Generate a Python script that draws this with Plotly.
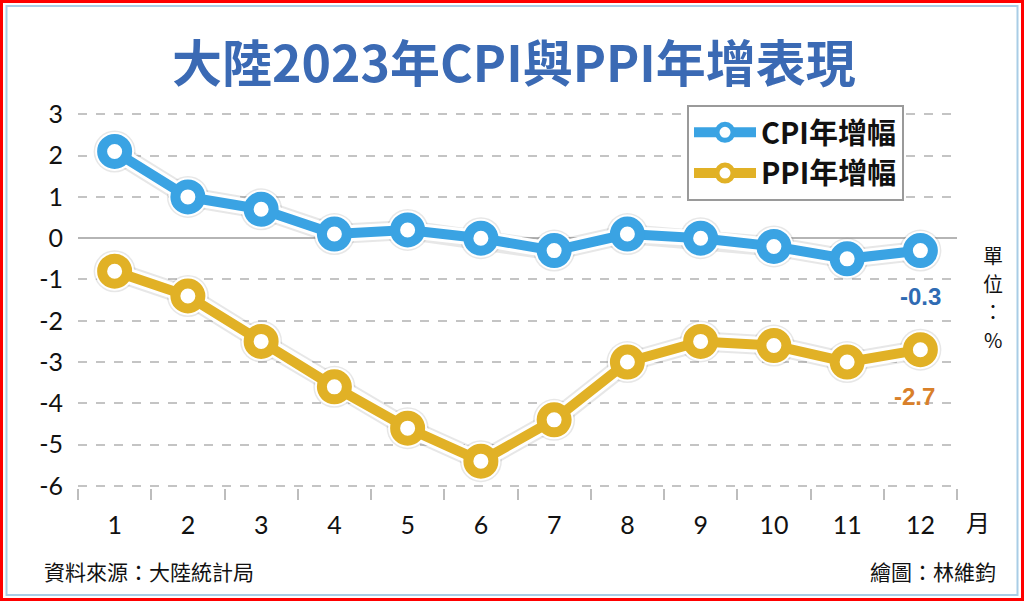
import plotly.graph_objects as go

months = list(range(1, 13))
month_labels = [str(m) for m in months]
cpi = [2.1, 1.0, 0.7, 0.1, 0.2, 0.0, -0.3, 0.1, 0.0, -0.2, -0.5, -0.3]
ppi = [-0.8, -1.4, -2.5, -3.6, -4.6, -5.4, -4.4, -3.0, -2.5, -2.6, -3.0, -2.7]
y_ticks = [3, 2, 1, 0, -1, -2, -3, -4, -5, -6]
y_labels = [str(v) for v in y_ticks]
unit_chars = ["單", "位", "：", "%"]

W, H = 1024, 601
L, R, T, B = 78, 67, 104, 113
PW, PH = W - L - R, H - T - B

def px(xp):
    return (xp - L) / PW

def py(yp):
    return (H - B - yp) / PH

BLUE = "#3aa3e3"
GOLD = "#e1b126"
TITLE = "#3b6ab4"
FONT = "Lato, 'Noto Sans CJK TC', sans-serif"
CJK = "'Noto Sans CJK TC', sans-serif"

fig = go.Figure()

for name, ys, col in [("<b>CPI年增幅</b>", cpi, BLUE), ("<b>PPI年增幅</b>", ppi, GOLD)]:
    fig.add_trace(go.Scatter(x=months, y=ys, mode="lines+markers", showlegend=False,
                             hoverinfo="skip", cliponaxis=False,
                             line=dict(color="rgba(120,120,120,0.18)", width=20),
                             marker=dict(size=42, color="rgba(120,120,120,0.18)", line=dict(width=0))))
    fig.add_trace(go.Scatter(x=months, y=ys, mode="lines+markers", showlegend=False,
                             hoverinfo="skip", cliponaxis=False,
                             line=dict(color="white", width=16),
                             marker=dict(size=39, color="white", line=dict(width=0))))
    fig.add_trace(go.Scatter(x=months, y=ys, mode="lines+markers", name=name,
                             cliponaxis=False,
                             line=dict(color=col, width=10),
                             marker=dict(size=25, color="white", line=dict(color=col, width=10))))

fig.update_layout(
    width=W, height=H,
    margin=dict(l=L, r=R, t=T, b=B),
    paper_bgcolor="white", plot_bgcolor="white",
    font=dict(family=FONT, color="#111111"),
    showlegend=True,
    legend=dict(x=px(687), y=py(105), xanchor="left", yanchor="top",
                bgcolor="white", bordercolor="#9a9a9a", borderwidth=2,
                font=dict(size=29, family=CJK, color="#111"),
                itemsizing="trace", tracegroupgap=0, itemwidth=62),
    xaxis=dict(range=[0.5, 12.5], tickvals=months, ticktext=month_labels,
               showgrid=False, zeroline=False, showline=False, ticks="",
               tickfont=dict(size=25, family=FONT, color="#111"),
               ticklabelstandoff=20,
               minor=dict(tick0=0.5, dtick=1, ticks="outside", ticklen=11,
                          tickwidth=2, tickcolor="#bdbdbd", showgrid=False)),
    yaxis=dict(range=[-6.05, 3.25], tickvals=y_ticks, ticktext=y_labels,
               showgrid=True, gridcolor="#c4c4c4", gridwidth=2, griddash="dash",
               zeroline=True, zerolinecolor="#b5b5b5", zerolinewidth=2,
               showline=False, ticks="",
               tickfont=dict(size=25, family=FONT, color="#111"),
               ticklabelstandoff=14),
)

annotations = [
    dict(text="<b>大陸2023年CPI與PPI年增表現</b>", x=px(514), y=py(60), xref="paper", yref="paper",
         showarrow=False, font=dict(size=50, color=TITLE, family=CJK), xanchor="center", yanchor="middle"),
    dict(text="月", x=px(978), y=py(521), xref="paper", yref="paper", showarrow=False,
         font=dict(size=24, color="#111", family=CJK), xanchor="center", yanchor="middle"),
    dict(text="資料來源：大陸統計局", x=px(42), y=py(571), xref="paper", yref="paper", showarrow=False,
         font=dict(size=21, color="#111", family=CJK), xanchor="left", yanchor="middle"),
    dict(text="繪圖：林維鈞", x=px(998), y=py(571), xref="paper", yref="paper", showarrow=False,
         font=dict(size=21, color="#111", family=CJK), xanchor="right", yanchor="middle"),
    dict(text="<b>%s</b>" % cpi[-1], x=months[-1], y=cpi[-1], xref="x", yref="y", showarrow=False,
         yshift=-46, xshift=0, font=dict(size=24, color="#2f6bb3", family="Liberation Sans"),
         xanchor="center", yanchor="middle"),
    dict(text="<b>%s</b>" % ppi[-1], x=months[-1], y=ppi[-1], xref="x", yref="y", showarrow=False,
         yshift=-47, xshift=-6, font=dict(size=24, color="#d9802a", family="Liberation Sans"),
         xanchor="center", yanchor="middle"),
]
for i, ch in enumerate(unit_chars):
    annotations.append(dict(text=ch, x=px(993), y=py(255 + i * 28), xref="paper", yref="paper",
                            showarrow=False, borderpad=0,
                            font=dict(size=20, color="#111", family=CJK),
                            xanchor="center", yanchor="middle"))
fig.update_layout(annotations=annotations)

shapes = [
    dict(type="rect", xref="paper", yref="paper", x0=px(1.5), x1=px(1022.5), y0=py(1.5), y1=py(599.5),
         line=dict(color="#ff0000", width=3), fillcolor="rgba(0,0,0,0)", layer="above"),
    dict(type="rect", xref="paper", yref="paper", x0=px(6.5), x1=px(1017.5), y0=py(6), y1=py(595),
         line=dict(color="#a9cde6", width=2), fillcolor="rgba(0,0,0,0)", layer="above"),
]
fig.update_layout(shapes=shapes)

fig.write_html("out.html", config={"displayModeBar": False},
               post_script="document.body.style.margin='0';document.body.style.overflow='hidden';")
